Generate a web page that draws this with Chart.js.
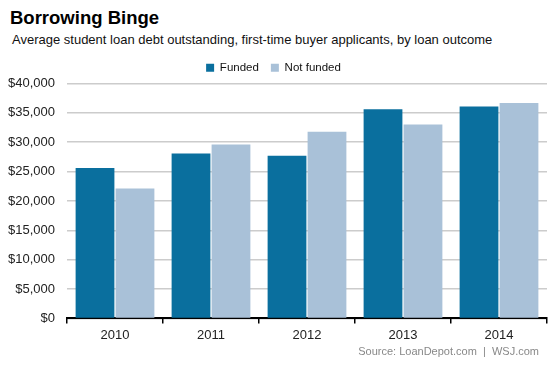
<!DOCTYPE html>
<html>
<head>
<meta charset="utf-8">
<script src="https://cdn.jsdelivr.net/npm/chart.js@4/dist/chart.umd.min.js"></script>
<style>
  body { margin: 0; background: #fff; font-family: "Liberation Sans", Arial, sans-serif; }
  #wrap { position: relative; width: 553px; height: 369px; overflow: hidden; }
  .title { position: absolute; left: 10px; top: 7px; font-size: 18.5px; font-weight: bold; color: #000; }
  .subtitle { position: absolute; left: 12px; top: 32px; font-size: 13px; color: #111; }
  .source { position: absolute; right: 14px; top: 345px; font-size: 11px; color: #888; }
  #chartBox { position: absolute; left: 0; top: 50px; width: 553px; height: 297px; }
</style>
</head>
<body>
<div id="wrap">
  <div class="title">Borrowing Binge</div>
  <div class="subtitle">Average student loan debt outstanding, first-time buyer applicants, by loan outcome</div>
  <div id="chartBox"><canvas id="barChart"></canvas></div>
  <div class="source">Source: LoanDepot.com &nbsp;|&nbsp; WSJ.com</div>
</div>
<script>
// data
const years = ["2010", "2011", "2012", "2013", "2014"];
const funded = [25600, 28100, 27700, 35600, 36100];
const notFunded = [22100, 29600, 31800, 33000, 36700];
const yTicks = [0, 5000, 10000, 15000, 20000, 25000, 30000, 35000, 40000];

const ctx = document.getElementById('barChart').getContext('2d');

let barChart = new Chart(ctx, {
    type: 'bar',
    data: {
        labels: years,
        datasets: [{
            label: 'Funded',
            data: funded,
            backgroundColor: '#0a6f9e'
        }, {
            label: 'Not funded',
            data: notFunded,
            backgroundColor: '#a9c1d8'
        }]
    },
    options: {
        responsive: true,
        maintainAspectRatio: false,
        animation: false,
        categoryPercentage: 0.833,
        barPercentage: 0.97,
        layout: { padding: { left: 0, right: 6, top: 0, bottom: 0 } },
        scales: {
            y: {
                min: 0,
                max: 40000,
                afterBuildTicks: function(scale) {
                    scale.ticks = yTicks.map(v => ({ value: v }));
                },
                afterFit: function(scale) {
                    scale.width = 67;
                },
                ticks: {
                    padding: 12,
                    color: '#222',
                    font: { family: 'Liberation Sans', size: 13 },
                    callback: function(value) {
                        return '$' + value.toLocaleString('en-US');
                    }
                },
                grid: { color: '#cccccc', lineWidth: 1.5, drawTicks: false },
                border: { display: false }
            },
            x: {
                ticks: {
                    color: '#222',
                    padding: 4,
                    font: { family: 'Liberation Sans', size: 13 }
                },
                grid: {
                    drawOnChartArea: false,
                    drawTicks: true,
                    tickLength: 5,
                    color: '#000',
                    lineWidth: 1.5
                },
                border: { display: true, color: '#000', width: 2 }
            }
        },
        plugins: {
            legend: {
                position: 'top',
                labels: {
                    boxWidth: 8,
                    boxHeight: 8,
                    padding: 12,
                    color: '#111',
                    font: { family: 'Liberation Sans', size: 11.5 }
                }
            },
            tooltip: { enabled: false }
        }
    }
});
</script>
</body>
</html>
